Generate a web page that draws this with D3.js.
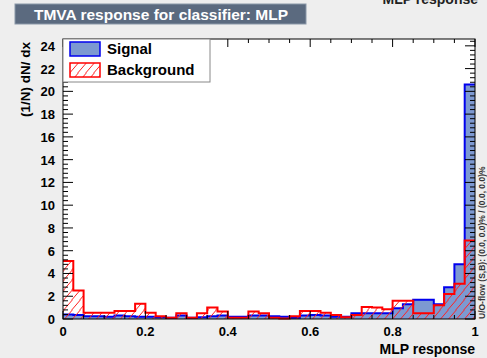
<!DOCTYPE html>
<html>
<head>
<meta charset="utf-8">
<script src="https://cdn.jsdelivr.net/npm/d3@7"></script>
<style>
  body { margin: 0; background: #eeeeee; }
  svg { display: block; font-family: "Liberation Sans", Arial, sans-serif; }
</style>
</head>
<body>
<div id="chart"></div>
<script>
// 40 bins on [0, 1]
const binEdges = d3.range(41).map((i) => i / 40);
const signal = [0.4, 0.35, 0.25, 0.25, 0.2, 0.3, 0.25, 0.2, 0.2, 0.15,
  0.1, 0.3, 0.1, 0.15, 0.25, 0.3, 0.2, 0.2, 0.3, 0.3,
  0.25, 0.2, 0.1, 0.3, 0.35, 0.3, 0.2, 0.2, 0.5, 0.5,
  0.5, 0.5, 0.95, 1.3, 1.7, 1.7, 1.3, 2.8, 4.8, 20.6];
const background = [5.1, 2.5, 0.55, 0.55, 0.55, 0.7, 0.7, 1.35, 0.55, 0.25,
  0.1, 0.5, 0.1, 0.5, 1.0, 0.65, 0.1, 0.1, 0.65, 0.5,
  0.1, 0.05, 0.25, 0.7, 0.7, 0.55, 0.35, 0.15, 0.35, 1.05,
  1.0, 0.85, 1.6, 1.6, 0.5, 0.5, 1.2, 2.2, 3.1, 6.9];
const xTicks = [0, 0.2, 0.4, 0.6, 0.8, 1];
const yTicks = [0, 2, 4, 6, 8, 10, 12, 14, 16, 18, 20, 22, 24];
const legendItems = ["Signal", "Background"];

const width = 487, height = 358;
const pad = { l: 63, r: 475, t: 39, b: 319 };

const svg = d3.select("#chart").append("svg").attr("width", width).attr("height", height);

// "/" hatching for the background histogram
const hatch = svg.append("defs").append("pattern")
  .attr("id", "hatch").attr("patternUnits", "userSpaceOnUse")
  .attr("width", 8).attr("height", 10);
hatch.append("path").attr("d", "M-2,12 L10,-2 M-10,12 L2,-2 M6,12 L18,-2")
  .attr("stroke", "#ff2020").attr("stroke-width", 1).attr("fill", "none");

const x = d3.scaleLinear().domain([0, 1]).range([pad.l, pad.r]);
const y = d3.scaleLinear().domain([0, 24.6]).range([pad.b, pad.t]);

// partly hidden text at the very top
svg.append("text").attr("x", 478).attr("y", 4).attr("text-anchor", "end")
  .attr("font-size", 14).attr("font-weight", "bold").attr("fill", "#222").text("MLP response");

// title box
svg.append("rect").attr("x", 15).attr("y", 4).attr("width", 291).attr("height", 20)
  .attr("fill", "#5b6a7f").attr("stroke", "#8a97a8").attr("stroke-width", 1);
svg.append("text").attr("x", 161).attr("y", 19.5).attr("text-anchor", "middle")
  .attr("font-size", 15.5).attr("font-weight", "bold").attr("fill", "#ffffff")
  .text("TMVA response for classifier: MLP");

// plot area
svg.append("rect").attr("x", pad.l).attr("y", pad.t)
  .attr("width", pad.r - pad.l).attr("height", pad.b - pad.t).attr("fill", "#ffffff");

function histPath(vals) {
  const pts = vals.map((v, i) => [binEdges[i], v]);
  pts.push([1, vals[vals.length - 1]]);
  return d3.line().x((d) => x(d[0])).y((d) => y(d[1])).curve(d3.curveStepAfter)(pts);
}
function histArea(vals) {
  const pts = vals.map((v, i) => [binEdges[i], v]);
  pts.push([1, vals[vals.length - 1]]);
  return d3.area().x((d) => x(d[0])).y0(y(0)).y1((d) => y(d[1])).curve(d3.curveStepAfter)(pts);
}

svg.append("path").attr("d", histArea(signal)).attr("fill", "#7d99d1");
svg.append("path").attr("d", histPath(signal)).attr("fill", "none").attr("stroke", "#0000ee").attr("stroke-width", 2);
svg.append("path").attr("d", histArea(background)).attr("fill", "url(#hatch)");
svg.append("path").attr("d", histPath(background)).attr("fill", "none").attr("stroke", "#ff0000").attr("stroke-width", 2);

// axes with ROOT-style inward ticks
const yMinor = d3.range(0, 24.41, 0.4);
const xMinor = d3.range(0, 1.001, 0.05);
const tg = svg.append("g").attr("stroke", "#000").attr("stroke-width", 1);
yMinor.forEach((v) => {
  const major = Math.abs(v / 2 - Math.round(v / 2)) < 1e-6;
  const len = major ? 10 : 5;
  tg.append("line").attr("x1", pad.l).attr("x2", pad.l + len).attr("y1", y(v)).attr("y2", y(v));
  tg.append("line").attr("x1", pad.r).attr("x2", pad.r - len).attr("y1", y(v)).attr("y2", y(v));
});
xMinor.forEach((v) => {
  const major = Math.abs(v / 0.2 - Math.round(v / 0.2)) < 1e-6;
  const len = major ? 8 : 4;
  tg.append("line").attr("x1", x(v)).attr("x2", x(v)).attr("y1", pad.b).attr("y2", pad.b - len);
  tg.append("line").attr("x1", x(v)).attr("x2", x(v)).attr("y1", pad.t).attr("y2", pad.t + len);
});

svg.append("rect").attr("x", pad.l).attr("y", pad.t)
  .attr("width", pad.r - pad.l).attr("height", pad.b - pad.t)
  .attr("fill", "none").attr("stroke", "#000").attr("stroke-width", 1);

svg.append("g").selectAll("text").data(yTicks).enter().append("text")
  .attr("x", 55).attr("y", (d) => y(d) + 5).attr("text-anchor", "end")
  .attr("font-size", 13).attr("font-weight", "bold").text((d) => d);
svg.append("g").selectAll("text").data(xTicks).enter().append("text")
  .attr("x", (d) => x(d)).attr("y", 336).attr("text-anchor", "middle")
  .attr("font-size", 13).attr("font-weight", "bold").text((d) => d);

svg.append("text").attr("x", pad.r).attr("y", 354).attr("text-anchor", "end")
  .attr("font-size", 14).attr("font-weight", "bold").text("MLP response");
svg.append("text").attr("transform", "translate(30, 42) rotate(-90)").attr("text-anchor", "end")
  .attr("font-size", 13.5).attr("font-weight", "bold").text("(1/N) dN/ dx");
svg.append("text").attr("transform", `translate(485, ${pad.b}) rotate(-90)`)
  .attr("font-size", 8.5).attr("font-weight", "bold").attr("fill", "#333")
  .text("U/O-flow (S,B): (0.0, 0.0)% / (0.0, 0.0)%");

// legend
const lg = svg.append("g");
lg.append("rect").attr("x", pad.l).attr("y", pad.t).attr("width", 147).attr("height", 43)
  .attr("fill", "#ffffff").attr("stroke", "#888").attr("stroke-width", 1);
const li = lg.selectAll("g.item").data(legendItems).enter().append("g").attr("class", "item")
  .attr("transform", (d, i) => `translate(${pad.l + 7}, ${pad.t + 3 + i * 21})`);
li.append("rect").attr("width", 30).attr("height", 14)
  .attr("fill", (d, i) => (i === 0 ? "#7d99d1" : "url(#hatch)"))
  .attr("stroke", (d, i) => (i === 0 ? "#0000ee" : "#ff0000")).attr("stroke-width", 1.5);
li.append("text").attr("x", 37).attr("y", 12).attr("font-size", 15).attr("font-weight", "bold").text((d) => d);
</script>
</body>
</html>
